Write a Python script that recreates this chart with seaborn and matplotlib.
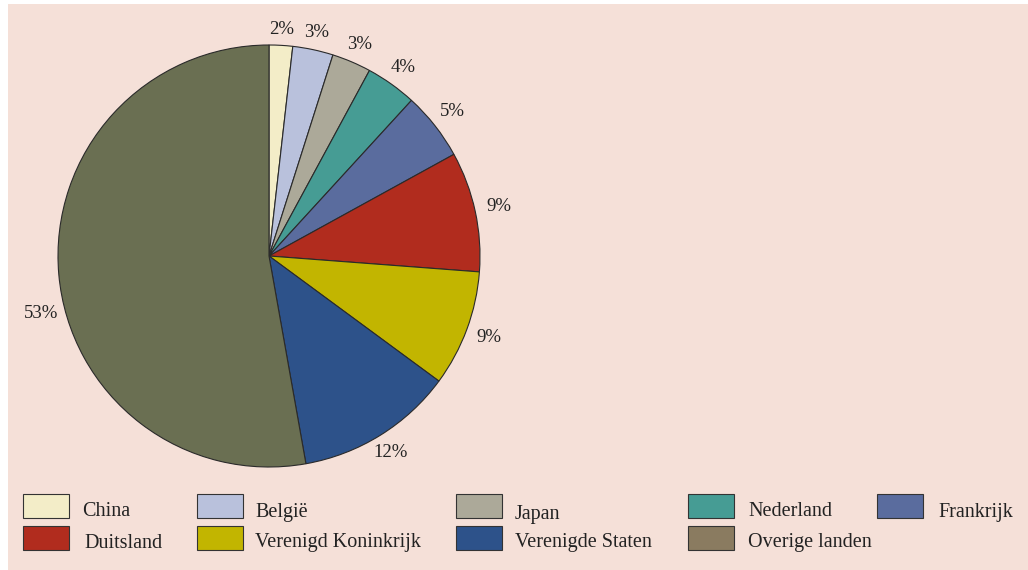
import matplotlib
matplotlib.use("Agg")
import numpy as np
import matplotlib.pyplot as plt
from matplotlib.patches import Rectangle
from matplotlib.transforms import Affine2D
import seaborn as sns

sns.set_style("white")
plt.rcParams['font.family'] = ['Liberation Serif', 'DejaVu Serif']

# aandeel per land (%)
landen = ["China", "België", "Japan", "Nederland", "Frankrijk",
          "Duitsland", "Verenigd Koninkrijk", "Verenigde Staten", "Overige landen"]
aandeel = [1.8, 3.1, 3.0, 3.9, 5.2, 9.2, 8.9, 12.1, 52.8]
kleuren = ["#F3EDC8", "#B9C1DC", "#ACA999", "#469C94", "#5A6C9E",
           "#B12C1E", "#C2B500", "#2D528A", "#6A6F52"]
legenda_kleuren = kleuren[:-1] + ["#8A7B60"]

W, H = 1028, 570
fig = plt.figure(figsize=(W / 100, H / 100), dpi=100)
fig.patch.set_facecolor("white")

# pixel transform (origin top-left)
px = Affine2D().scale(1.0 / W, -1.0 / H).translate(0, 1) + fig.transFigure

bg = Rectangle((8, 4), W - 8, H - 4, transform=px, facecolor="#F5E0D8",
               edgecolor="none", zorder=-5)
fig.patches.append(bg)

ax = fig.add_axes([58 / W, (H - 467) / H, 422 / W, 422 / H])
ax.set_zorder(1)
ax.set_facecolor("none")
wedges, texts = ax.pie(
    aandeel, colors=kleuren, startangle=90, counterclock=False,
    labels=[f"{v:.0f}%" for v in aandeel],
    wedgeprops=dict(edgecolor="#2a2a2a", linewidth=0.8),
    textprops=dict(fontsize=13.5, color="#222222"))
# labels iets dichter bij de taart bovenaan, verder aan de zijkant
for i, (w, t) in enumerate(zip(wedges, texts)):
    hoek = np.deg2rad((w.theta1 + w.theta2) / 2)
    if i == len(wedges) - 1:
        hoek += np.deg2rad(9)
    r = 1.075 + 0.04 * abs(np.cos(hoek))
    t.set_position((r * np.cos(hoek), r * np.sin(hoek)))
    t.set_horizontalalignment("center")
    t.set_verticalalignment("center")
ax.set_xlim(-1, 1)
ax.set_ylim(-1, 1)
ax.set_aspect("equal")
ax.axis("off")

# legenda
box_x = [23, 197, 456, 688, 877, 23, 197, 456, 688]
box_y = [494, 494, 494, 494, 494, 526, 526, 526, 526]
txt_x = [82, 255, 515, 748, 938, 84, 255, 515, 748]
txt_y = [512, 512, 514, 511, 513, 543, 543, 543, 543]
for naam, kl, bx, by, tx, ty in zip(landen, legenda_kleuren, box_x, box_y, txt_x, txt_y):
    fig.patches.append(Rectangle((bx, by + 24), 46, -24, transform=px, facecolor=kl,
                                 edgecolor="#333333", linewidth=0.8, zorder=2))
    fig.text(tx, ty, naam, transform=px, fontsize=14.5, color="#222222",
             ha="left", va="center")

fig.savefig("out.png", dpi=100)
